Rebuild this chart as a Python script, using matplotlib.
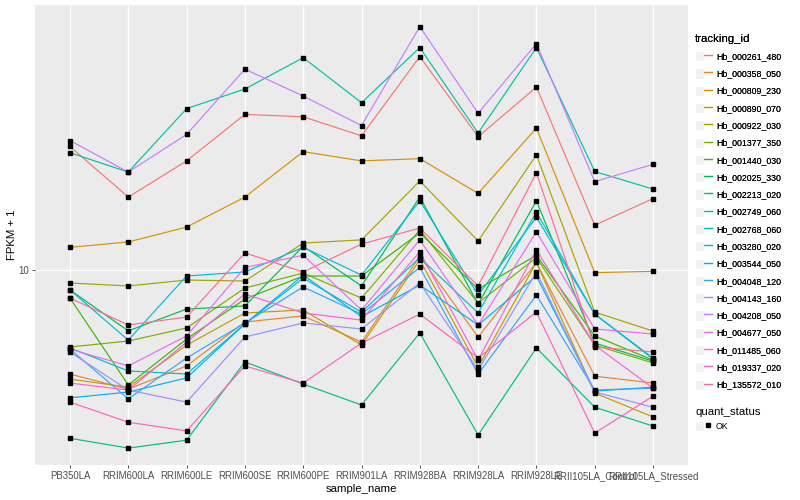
import matplotlib.pyplot as plt
from matplotlib.lines import Line2D
from matplotlib.patches import Patch
from matplotlib.legend_handler import HandlerTuple
from matplotlib.ticker import NullLocator

plt.rcParams['font.family'] = ['Liberation Sans', 'DejaVu Sans']

# === DATA (FPKM + 1) === #
samples = ['PB350LA', 'RRIM600LA', 'RRIM600LE', 'RRIM600SE', 'RRIM600PE', 'RRIM901LA',
           'RRIM928BA', 'RRIM928LA', 'RRIM928LE', 'RRII105LA_Control', 'RRII105LA_Stressed']

tracking_ids = ['Hb_000261_480', 'Hb_000358_050', 'Hb_000809_230', 'Hb_000890_070',
                'Hb_000922_030', 'Hb_001377_350', 'Hb_001440_030', 'Hb_002025_330',
                'Hb_002213_020', 'Hb_002749_060', 'Hb_002768_060', 'Hb_003280_020',
                'Hb_003544_050', 'Hb_004048_120', 'Hb_004143_160', 'Hb_004208_050',
                'Hb_004677_050', 'Hb_011485_060', 'Hb_019337_020', 'Hb_135572_010']

hb_000261_480 = [25.8, 17.5, 23.1, 33.0, 32.4, 28.0, 51.4, 27.8, 40.7, 14.1, 17.3]
hb_000358_050 = [4.50, 4.01, 4.79, 6.71, 7.03, 5.75, 11.1, 5.98, 10.6, 4.43, 4.20]
hb_000809_230 = [11.9, 12.4, 13.9, 17.5, 24.8, 23.1, 23.5, 18.0, 29.7, 9.8, 9.9]
hb_000890_070 = [4.33, 4.07, 5.62, 7.19, 7.36, 5.62, 10.8, 4.75, 10.6, 3.89, 3.24]
hb_000922_030 = [9.05, 8.85, 9.26, 9.19, 12.3, 12.6, 19.8, 12.5, 24.2, 7.24, 6.26]
hb_001377_350 = [5.54, 5.80, 6.41, 8.71, 9.77, 8.06, 13.6, 7.76, 11.0, 5.62, 4.90]
hb_001440_030 = [8.06, 4.14, 5.89, 8.00, 9.55, 9.55, 13.3, 8.64, 11.2, 6.03, 5.01]
hb_002025_330 = [8.58, 6.27, 7.41, 7.59, 12.0, 8.85, 17.5, 7.70, 17.0, 5.71, 4.97]
hb_002213_020 = [2.75, 2.55, 2.71, 4.94, 4.17, 3.55, 6.17, 2.82, 5.50, 3.49, 3.02]
hb_002749_060 = [24.6, 21.2, 34.5, 40.1, 51.0, 36.1, 55.1, 28.6, 55.1, 21.3, 18.6]
hb_002768_060 = [5.50, 4.61, 4.50, 6.61, 9.40, 7.24, 11.0, 7.19, 15.6, 7.13, 5.09]
hb_003280_020 = [8.58, 5.84, 9.55, 9.85, 11.9, 9.62, 17.0, 8.25, 15.0, 7.13, 5.05]
hb_003544_050 = [3.75, 3.92, 4.37, 6.61, 9.62, 6.99, 8.91, 6.56, 9.55, 3.95, 4.07]
hb_004048_120 = [5.45, 3.72, 5.09, 6.66, 8.78, 7.13, 10.2, 4.50, 8.25, 3.98, 4.04]
hb_004143_160 = [5.33, 3.98, 3.63, 5.98, 6.66, 6.36, 9.05, 4.64, 9.85, 3.92, 3.49]
hb_004208_050 = [27.0, 21.2, 28.3, 46.7, 38.0, 30.3, 64.7, 33.3, 56.8, 19.7, 22.5]
hb_004677_050 = [5.45, 4.79, 6.03, 10.2, 11.2, 7.36, 12.6, 6.56, 13.4, 6.36, 6.12]
hb_011485_060 = [4.20, 3.98, 5.75, 8.32, 7.19, 6.81, 11.5, 5.01, 11.7, 5.62, 4.04]
hb_019337_020 = [3.63, 3.11, 2.91, 4.79, 4.20, 5.71, 7.13, 5.09, 7.24, 2.86, 3.80]
hb_135572_010 = [8.06, 6.56, 6.97, 11.4, 9.85, 12.2, 13.8, 8.85, 21.1, 5.54, 5.33]

fpkm = [hb_000261_480, hb_000358_050, hb_000809_230, hb_000890_070, hb_000922_030,
        hb_001377_350, hb_001440_030, hb_002025_330, hb_002213_020, hb_002749_060,
        hb_002768_060, hb_003280_020, hb_003544_050, hb_004048_120, hb_004143_160,
        hb_004208_050, hb_004677_050, hb_011485_060, hb_019337_020, hb_135572_010]

# ggplot default hue palette for 20 groups
colors = ['#F8766D', '#EA8331', '#D89000', '#C09B00', '#A3A500', '#7CAE00', '#39B600',
          '#00BB4E', '#00BF7D', '#00C1A3', '#00BFC4', '#00BAE0', '#00B0F6', '#35A2FF',
          '#9590FF', '#C77CFF', '#E76BF3', '#FA62DB', '#FF62BC', '#FF6C91']

x = list(range(len(samples)))

fig = plt.figure(figsize=(8, 5), dpi=100)
ax = fig.add_axes([35 / 800, 1 - 465 / 500, 653 / 800, 460 / 500])
ax.set_facecolor('#EBEBEB')
for s in ax.spines.values():
    s.set_visible(False)

for vals, c in zip(fpkm, colors):
    ax.plot(x, vals, '-', color=c, linewidth=0.85, zorder=2)
for vals in fpkm:
    ax.plot(x, vals, 's', color='black', markersize=2.5, zorder=3)

ax.set_yscale('log')
ax.set_ylim(2.24, 76.4)
ax.set_xlim(-0.6, 10.6)
ax.set_yticks([10])
ax.set_yticklabels(['10'])
ax.yaxis.set_minor_locator(NullLocator())
ax.set_xticks(x)
ax.set_xticklabels(samples)
ax.grid(True, color='white', linewidth=1.0, zorder=0)
ax.set_axisbelow(True)
ax.tick_params(axis='both', colors='#333333', labelcolor='#4D4D4D', labelsize=6.9,
               length=2.5, width=0.6, pad=2)
ax.set_xlabel('sample_name', fontsize=8.2, labelpad=2)
ax.set_ylabel('FPKM + 1', fontsize=8.2, labelpad=1)

# === LEGENDS === #
key = dict(facecolor='#F2F2F2', edgecolor='white', linewidth=0.8)
handles = [(Patch(**key), Line2D([], [], color=c, linewidth=0.9)) for c in colors]
leg1 = fig.legend(handles, tracking_ids, loc='upper left', bbox_to_anchor=(695 / 800, 1 - 34 / 500),
                  frameon=False, fontsize=6.3, title='tracking_id', title_fontsize=8.2,
                  alignment='left', handlelength=1.95, handleheight=1.4, labelspacing=0.82,
                  handletextpad=0.45, borderpad=0, borderaxespad=0,
                  handler_map={tuple: HandlerTuple(ndivide=None)})
fig.add_artist(leg1)

qs = [(Patch(**key), Line2D([], [], marker='s', color='black', linestyle='none', markersize=2.5))]
fig.legend(qs, ['OK'], loc='upper left', bbox_to_anchor=(695 / 800, 1 - 407 / 500),
           frameon=False, fontsize=6.3, title='quant_status', title_fontsize=8.2,
           alignment='left', handlelength=1.95, handleheight=1.4, handletextpad=0.45,
           borderpad=0, borderaxespad=0, handler_map={tuple: HandlerTuple(ndivide=None)})

fig.savefig('out.png', dpi=100)
